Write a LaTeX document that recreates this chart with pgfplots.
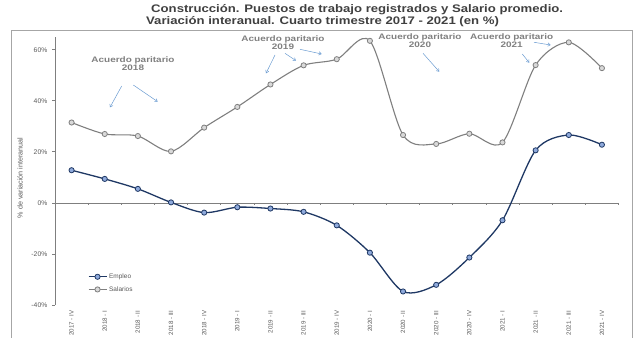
\documentclass[border=0pt]{standalone}
\usepackage{pgfplots}
\pgfplotsset{compat=1.18}
\usepackage{graphicx}
\usepackage{fontspec}
\setmainfont{Liberation Sans}
\usetikzlibrary{arrows.meta}
\definecolor{empleo}{HTML}{1F3864}
\definecolor{empleofill}{HTML}{8FAADC}
\definecolor{sal}{HTML}{7F7F7F}
\definecolor{salfill}{HTML}{D9D9D9}
\definecolor{txt}{HTML}{595959}
\definecolor{ttl}{HTML}{404040}
\definecolor{arr}{HTML}{6A9BD1}
\definecolor{frame}{HTML}{A6A6A6}
\begin{document}
\begin{tikzpicture}
\path[use as bounding box] (0bp,0bp) rectangle (640bp,338bp);
\begin{axis}[
  at={(55bp,33bp)}, anchor=south west, scale only axis,
  width=563.5bp, height=268bp,
  xmin=-0.5, xmax=16.5, ymin=-40, ymax=65,
  axis y line*=left, axis x line*=bottom,
  x axis line style={draw=none},
  y axis line style={draw=sal, line width=0.8bp},
  xtick={0,...,16},
  xticklabels={2017 - IV,2018 - I,2018 - II,2018 - III,2018 - IV,2019 - I,2019 - II,2019 - III,2019 - IV,2020 - I,2020 - II,2020 - III,2020 - IV,2021 - I,2021 - II,2021 - III,2021 - IV},
  x tick style={draw=none},
  xticklabel style={rotate=90, anchor=east, inner sep=0, font=\fontsize{6.2}{7}\selectfont, text=txt},
  xticklabel shift=3bp,
  ytick={-40,-20,0,20,40,60},
  /pgf/number format/assume math mode=true,
  yticklabel={\pgfmathprintnumber{\tick}\%},
  y tick style={draw=sal, line width=0.8bp},
  tick align=outside, major tick length=2.5bp,
  yticklabel style={font=\fontsize{6.8}{7}\selectfont, text=txt, inner sep=0},
  yticklabel shift=5bp,
  legend cell align=left,
  legend style={at={(0.058,0.125)}, anchor=north west, draw=none, fill=none, inner sep=0pt,
    font=\fontsize{6.5}{7}\selectfont, text=txt, row sep=2.5bp,
    /tikz/every even column/.append style={column sep=1bp}},
  legend image code/.code={\draw[#1, mark repeat=2, mark phase=2] plot coordinates {(0bp,0bp) (9bp,0bp) (18bp,0bp)};},
  clip=false,
]
\draw[sal, line width=0.8bp] (axis cs:-0.5,0) -- (axis cs:16.5,0);
\pgfplotsinvokeforeach{0.5,1.5,...,16.5}{\draw[sal, line width=0.7bp] (axis cs:#1,0) -- ([yshift=-2.5bp]axis cs:#1,0);}
\addplot[empleo, line width=1.3bp, smooth, tension=0.5, mark=*, mark size=2.6bp,
  mark options={fill=empleofill, draw=empleo, line width=0.8bp}] coordinates {
(0,12.8) (1,9.4) (2,5.5) (3,0.2) (4,-3.8) (5,-1.7) (6,-2.2) (7,-3.5) (8,-8.8)
(9,-19.5) (10,-34.7) (11,-32.1) (12,-21.4) (13,-6.8) (14,20.6) (15,26.6) (16,22.8)};
\addlegendentry{Empleo}
\addplot[sal, line width=1.1bp, smooth, tension=0.5, mark=*, mark size=2.6bp,
  mark options={fill=salfill, draw=sal, line width=0.8bp}] coordinates {
(0,31.5) (1,27.0) (2,26.2) (3,20.2) (4,29.5) (5,37.6) (6,46.4) (7,53.9) (8,56.3)
(9,63.5) (10,26.6) (11,23.1) (12,27.1) (13,23.7) (14,54.0) (15,62.9) (16,52.8)};
\addlegendentry{Salarios}
\end{axis}
\begin{scope}[x=1bp,y=1bp]
\draw[frame, line width=0.9bp] (11,-2) -- (11,308) -- (632,308) -- (632,-2);
\node[anchor=west, inner sep=0, text=ttl, font=\bfseries\fontsize{11}{12}\selectfont] at (151,328) {\scalebox{1.2}[1]{Construcción. Puestos de trabajo registrados y Salario promedio.}};
\node[anchor=west, inner sep=0, text=ttl, font=\bfseries\fontsize{11}{12}\selectfont] at (146,316) {\scalebox{1.2}[1]{Variación interanual. Cuarto trimestre 2017 - 2021 (en \%)}};
\node[rotate=90, text=txt, font=\fontsize{7.2}{8}\selectfont] at (20,160) {\% de variación interanual};
\tikzset{ann/.style={align=center, inner sep=0, text=sal, font=\bfseries\fontsize{8}{8.3}\selectfont},
  ar/.style={arr, line width=0.5bp, -{Straight Barb[length=2.5bp,width=3.5bp]}}}
\node[ann] at (133,274) {\scalebox{1.25}[1]{Acuerdo paritario}\\\scalebox{1.25}[1]{2018}};
\draw[ar] (121.7,252) -- (110,230.7);
\draw[ar] (133.3,253) -- (157.7,236.3);
\node[ann] at (283,295) {\scalebox{1.25}[1]{Acuerdo paritario}\\\scalebox{1.25}[1]{2019}};
\draw[ar] (275,283) -- (266,264.7);
\draw[ar] (285,284.7) -- (296,277.3);
\draw[ar] (300,288.7) -- (321.7,284);
\node[ann] at (420,297.5) {\scalebox{1.25}[1]{Acuerdo paritario}\\\scalebox{1.25}[1]{2020}};
\draw[ar] (423,284.7) -- (439.3,266.3);
\node[ann] at (511.7,297) {\scalebox{1.25}[1]{Acuerdo paritario}\\\scalebox{1.25}[1]{2021}};
\draw[ar] (522.3,284) -- (529.3,275.3);
\draw[ar] (534,295.7) -- (550.7,293);
\end{scope}
\end{tikzpicture}
\end{document}
